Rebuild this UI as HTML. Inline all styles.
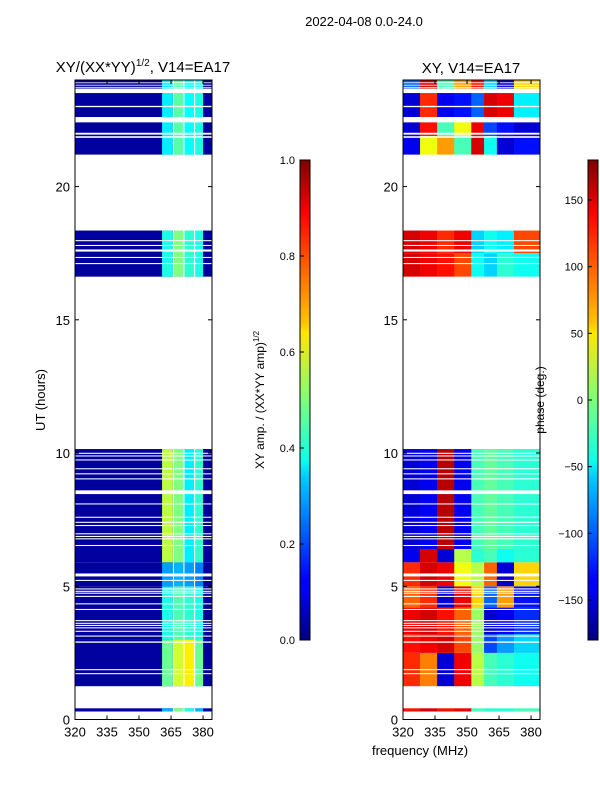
<!DOCTYPE html>
<html><head><meta charset="utf-8"><style>
body{margin:0;background:#fff;}
svg text{font-family:"Liberation Sans","DejaVu Sans",sans-serif;fill:#000;}
</style></head><body>
<svg id="fig" width="600" height="800" xmlns="http://www.w3.org/2000/svg">
<defs>
<linearGradient id="jetV" x1="0" y1="1" x2="0" y2="0">
<stop offset="0" stop-color="#00007f"/><stop offset="0.11" stop-color="#0000ff"/><stop offset="0.125" stop-color="#0000ff"/>
<stop offset="0.34" stop-color="#00ccff"/><stop offset="0.375" stop-color="#0dffea"/><stop offset="0.5" stop-color="#7dff7a"/>
<stop offset="0.64" stop-color="#ffe600"/><stop offset="0.66" stop-color="#ffc400"/><stop offset="0.89" stop-color="#ff0000"/>
<stop offset="1" stop-color="#7f0000"/></linearGradient>
</defs>
<text x="364" y="26" text-anchor="middle" font-size="13">2022-04-08 0.0-24.0</text>
<text x="143" y="72" text-anchor="middle" font-size="15">XY/(XX*YY)<tspan font-size="10" dy="-6">1/2</tspan><tspan dy="6">, V14=EA17</tspan></text>
<text x="471" y="73" text-anchor="middle" font-size="15">XY, V14=EA17</text>
<text transform="translate(45,400) rotate(-90)" text-anchor="middle" font-size="13">UT (hours)</text>
<text x="420" y="755" text-anchor="middle" font-size="13">frequency (MHz)</text>
<text transform="translate(264,400) rotate(-90)" text-anchor="middle" font-size="12">XY amp. / (XX*YY amp)<tspan font-size="8" dy="-5">1/2</tspan></text>
<text transform="translate(544,400) rotate(-90)" text-anchor="middle" font-size="12">phase (deg.)</text>
<g id="left"></g>
<g id="right"></g>
<g id="axes"></g>
<rect x="300" y="160" width="10" height="480" fill="url(#jetV)" stroke="#000" stroke-width="1"/>
<rect x="588" y="160" width="10" height="480" fill="url(#jetV)" stroke="#000" stroke-width="1"/>
<g id="cbticks"></g>
</svg>
<script>
// ---- data ----
const xTicks = [320, 335, 350, 365, 380];
const yTicks = [0, 5, 10, 15, 20];
const ampTicks = [0.0, 0.2, 0.4, 0.6, 0.8, 1.0];
const phaseTicks = [-150, -100, -50, 0, 50, 100, 150];
const blocks = [[0.3, 0.42], [1.25, 10.15], [16.62, 18.35], [21.2, 24]];
const gaps = [[1.70,1.74],[1.85,1.89],[2.88,2.93],[3.11,3.15],[3.29,3.33],[3.42,3.46],[3.51,3.55],[3.59,3.63],[3.69,3.73],
 [4.11,4.15],[4.32,4.36],[4.60,4.64],[4.72,4.76],[4.79,4.83],[4.88,4.92],[5.20,5.24],[5.37,5.48],[6.51,6.55],[6.76,6.80],
 [6.85,6.89],[6.95,6.99],[7.26,7.30],[7.38,7.42],[7.57,7.61],[8.07,8.11],[8.46,8.60],[9.01,9.05],[9.20,9.24],[9.39,9.43],
 [9.72,9.76],[9.87,9.91],[9.97,10.01],
 [17.09,17.13],[17.32,17.36],[17.56,17.64],[17.77,17.81],[17.95,17.99],
 [21.83,21.89],[21.95,22.02],[22.41,22.61],[22.98,23.03],[23.51,23.68],[23.71,23.74],[23.79,23.82],[23.88,23.91]];
const ampBase = 0.03;
const ampBands = [[360.8,365.8],[366.3,370.8],[371.3,375.8],[376.3,380]];
const ampSegs = [[0.3,0.42],[1.25,3.0],[3.0,5.0],[5.0,5.9],[5.9,10.15],[16.62,18.35],[21.2,24]];
const ampVals = [[0.30,0.50,0.40,0.30],[0.48,0.58,0.64,0.48],[0.40,0.45,0.42,0.40],[0.28,0.30,0.28,0.25],
 [0.56,0.50,0.36,0.42],[0.40,0.50,0.42,0.40],[0.36,0.46,0.38,0.40]];
const phBands = [320,328,336,344,352,358,364,372,384.2];
const phSegs = [[0.3,0.42],[1.25,2.5],[2.5,3.2],[3.2,4.2],[4.2,5.0],[5.0,5.9],[5.9,6.4],[6.4,10.15],
 [16.62,17.5],[17.5,18.35],[21.2,21.9],[21.9,22.45],[22.45,23.6],[23.6,24]];
const phVals = [[130,150,130,140,-20,-30,-30,-20],[120,90,-150,140,20,-20,-30,-40],[130,140,150,110,10,-110,-80,-60],
 [140,150,130,100,10,-150,-140,-120],[100,120,-150,140,60,-100,80,-130],[120,150,140,40,20,100,-150,60],
 [-140,150,-150,20,-30,-20,-40,-30],[-150,-140,160,-140,-20,-10,-20,-30],
 [150,140,130,110,-40,-60,-30,-40],[150,140,120,140,-60,-40,-50,110],
 [-140,40,80,-20,150,-40,-150,-130],[-150,130,-20,40,140,-110,-130,-150],[-150,120,-140,-130,-100,150,140,-50],
 [-100,150,-20,80,130,-60,-150,60]];
// ---- helpers ----
const NS = "http://www.w3.org/2000/svg";
const P = [{x0:75,x1:212},{x0:403,x1:540}];
const Y0 = 719.5, Y1 = 80;
const fMin = 320, fMax = 384.2;
function sx(p, f){ return P[p].x0 + (f - fMin) / (fMax - fMin) * (P[p].x1 - P[p].x0); }
function sy(h){ return Y0 - h / 24 * (Y0 - Y1); }
function jet(v){
  v = Math.max(0, Math.min(1, v));
  const r = Math.max(0, Math.min(1, 1.5 - Math.abs(4*v - 3)));
  const g = Math.max(0, Math.min(1, 1.5 - Math.abs(4*v - 2)));
  const b = Math.max(0, Math.min(1, 1.5 - Math.abs(4*v - 1)));
  return `rgb(${Math.round(r*255)},${Math.round(g*255)},${Math.round(b*255)})`;
}
function rect(g, x, y, w, h, fill, name){
  const r = document.createElementNS(NS, "rect");
  r.setAttribute("x", x); r.setAttribute("y", y); r.setAttribute("width", w); r.setAttribute("height", h);
  r.setAttribute("fill", fill);
  
  
  g.appendChild(r); return r;
}
function text(g, x, y, s, anchor, size, name){
  const t = document.createElementNS(NS, "text");
  t.setAttribute("x", x); t.setAttribute("y", y); t.setAttribute("text-anchor", anchor); t.setAttribute("font-size", size);
  t.textContent = s;
  
  
  g.appendChild(t);
}
function line(g, x1, y1, x2, y2, w, name){
  const l = document.createElementNS(NS, "line");
  l.setAttribute("x1", x1); l.setAttribute("y1", y1); l.setAttribute("x2", x2); l.setAttribute("y2", y2);
  l.setAttribute("stroke", "#000"); l.setAttribute("stroke-width", w);
  
  
  g.appendChild(l);
}
// ---- left amplitude heatmap ----
const L = document.getElementById("left");
ampSegs.forEach((s, i) => {
  const y = sy(s[1]), h = sy(s[0]) - sy(s[1]);
  rect(L, sx(0, fMin), y, sx(0, fMax) - sx(0, fMin), h, jet(ampBase), 'amp-row-base');
  rect(L, sx(0, 365.8), y, sx(0, 380) - sx(0, 365.8), h, "#fff", 'amp-band-gap');
  ampBands.forEach((b, j) => {
    rect(L, sx(0, b[0]), y, sx(0, b[1]) - sx(0, b[0]), h, jet(ampVals[i][j]), 'amp-cell');
  });
});
// ---- right phase heatmap ----
const R = document.getElementById("right");
phSegs.forEach((s, i) => {
  const y = sy(s[1]), h = sy(s[0]) - sy(s[1]);
  for (let j = 0; j < phBands.length - 1; j++) {
    rect(R, sx(1, phBands[j]), y, sx(1, phBands[j+1]) - sx(1, phBands[j]) + 0.3, h, jet((phVals[i][j] + 180) / 360), 'phase-cell');
  }
});
// ---- flagged gaps ----
[0, 1].forEach(p => {
  const g = p ? R : L;
  gaps.forEach(gp => {
    rect(g, sx(p, fMin), sy(gp[1]), sx(p, fMax) - sx(p, fMin), sy(gp[0]) - sy(gp[1]), "#fff", 'flagged-gap');
  });
});
// ---- axes ----
const A = document.getElementById("axes");
[0, 1].forEach(p => {
  const fr = document.createElementNS(NS, "rect");
  fr.setAttribute("x", P[p].x0); fr.setAttribute("y", Y1); fr.setAttribute("width", P[p].x1 - P[p].x0); fr.setAttribute("height", Y0 - Y1);
  fr.setAttribute("fill", "none"); fr.setAttribute("stroke", "#000"); fr.setAttribute("stroke-width", 1);
  
  
  A.appendChild(fr);
  xTicks.forEach(f => {
    const x = sx(p, f);
    line(A, x, Y0, x, Y0 - 4, 1, 'x-tick');
    line(A, x, Y1, x, Y1 + 4, 1, 'x-tick');
    text(A, x, Y0 + 17, String(f), "middle", 13, 'x-tick-label');
  });
  yTicks.forEach(h => {
    const y = sy(h);
    line(A, P[p].x0, y, P[p].x0 + 4, y, 1, 'y-tick');
    line(A, P[p].x1, y, P[p].x1 - 4, y, 1, 'y-tick');
    text(A, P[p].x0 - 5, y + 5, String(h), "end", 13, 'y-tick-label');
  });
});
// ---- colorbar ticks ----
const C = document.getElementById("cbticks");
ampTicks.forEach(v => {
  const y = 640 - v * 480;
  line(C, 300, y, 304, y, 1, 'amp-colorbar-tick');
  text(C, 295, y + 4, v.toFixed(1), "end", 11, 'amp-colorbar-label');
});
phaseTicks.forEach(v => {
  const y = 640 - (v + 180) / 360 * 480;
  line(C, 588, y, 592, y, 1, 'phase-colorbar-tick');
  text(C, 583, y + 4, v < 0 ? "\u2212" + Math.abs(v) : String(v), "end", 11, 'phase-colorbar-label');
});
</script>
</body></html>
